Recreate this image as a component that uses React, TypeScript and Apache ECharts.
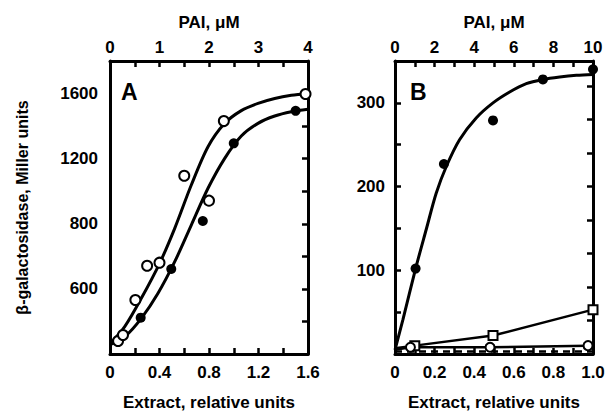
import React, { useEffect, useRef } from "react";
import * as echarts from "echarts";

// ---- Panel A data ----
const extractLabelsA = [0, 0.4, 0.8, 1.2, 1.6];
const paiLabelsA = [0, 1, 2, 3, 4];
const yTickValuesA = [400, 800, 1200, 1600];
const yTickTextA = ["600", "800", "1200", "1600"];
const openPointsA = [[0.065, 80], [0.105, 117], [0.205, 332], [0.3, 542], [0.4, 561], [0.6, 1095], [0.8, 942], [0.92, 1431], [1.58, 1597]];
const filledPointsA = [[0.248, 223], [0.495, 522], [0.75, 817], [1.0, 1294], [1.5, 1494]];
const upperCurveA = [[0.005, 66], [0.119, 168], [0.253, 342], [0.401, 557], [0.523, 772], [0.657, 1038], [0.792, 1273], [0.927, 1417], [1.061, 1495], [1.196, 1540], [1.331, 1570], [1.465, 1589], [1.6, 1599]];
const lowerCurveA = [[0.005, 59], [0.119, 106], [0.253, 219], [0.388, 373], [0.523, 567], [0.657, 792], [0.792, 1018], [0.927, 1202], [1.061, 1339], [1.196, 1417], [1.331, 1462], [1.465, 1488], [1.6, 1503]];

// ---- Panel B data ----
const extractLabelsB = [0, 0.2, 0.4, 0.6, 0.8, 1.0];
const paiLabelsB = [0, 2, 4, 6, 8, 10];
const yLabelsB = [100, 200, 300];
const filledPointsB = [[0.104, 102], [0.247, 227], [0.495, 279], [0.747, 328], [1.0, 340]];
const curveB = [[0, 5], [0.04, 41], [0.104, 102], [0.158, 149], [0.208, 192], [0.259, 224], [0.326, 256], [0.41, 282], [0.495, 300], [0.579, 313], [0.663, 323], [0.747, 328], [0.832, 331], [0.916, 333], [1.0, 334]];
const squaresB = [[0, 7], [0.1, 10], [0.495, 22], [1.0, 53]];
const openCirclesB = [[0, 5], [0.078, 8], [0.48, 8], [0.975, 10]];
const dashedB = [[0, 3], [1.0, 3]];

const FONT = "Liberation Sans";
const near = (arr: number[], v: number) => arr.some((a) => Math.abs(a - v) < 1e-6);

const labelStyle = { color: "#000", fontFamily: FONT, fontWeight: "bold" as const, fontSize: 17 };
const lineStyle = { color: "#000", width: 3 };
const tickStyle = { show: true, inside: true, length: 6, lineStyle: { color: "#000", width: 2.5 } };
const nameStyle = { color: "#000", fontFamily: FONT, fontWeight: "bold" as const, fontSize: 17 };

export default function App() {
  const ref = useRef<HTMLDivElement>(null);
  useEffect(() => {
    if (!ref.current) return;
    const chart = echarts.init(ref.current, undefined, { renderer: "svg" });
    const xBase = (grid: number, pos: "top" | "bottom", max: number, interval: number, labels: number[], decimals: number, name: string, nameGap: number) => ({
      type: "value",
      gridIndex: grid,
      position: pos,
      min: 0,
      max,
      interval,
      name,
      nameLocation: "middle",
      nameGap,
      nameTextStyle: nameStyle,
      axisLine: { show: true, onZero: false, lineStyle },
      axisTick: tickStyle,
      splitLine: { show: false },
      axisLabel: {
        ...labelStyle,
        margin: pos === "top" ? 5 : 10,
        showMaxLabel: true,
        showMinLabel: true,
        formatter: (v: number) => (near(labels, v) ? (v === 0 ? "0" : v.toFixed(decimals)) : ""),
      },
    });
    const openStyle = { color: "#fff", borderColor: "#000", borderWidth: 2, opacity: 1 };
    const filledStyle = { color: "#000", opacity: 1 };
    const curveLine = { color: "#000", width: 3 };
    const option: any = {
      animation: false,
      backgroundColor: "#fff",
      grid: [
        { left: 110, top: 61, width: 198, height: 293 },
        { left: 395, top: 61, width: 198, height: 293 },
      ],
      graphic: [
        { type: "text", left: 121, top: 80, style: { text: "A", fill: "#000", font: `bold 23px "${FONT}"` } },
        { type: "text", left: 410, top: 80, style: { text: "B", fill: "#000", font: `bold 23px "${FONT}"` } },
      ],
      xAxis: [
        xBase(0, "bottom", 1.6, 0.2, extractLabelsA, 1, "Extract, relative units", 40),
        xBase(0, "top", 4, 0.5, paiLabelsA, 0, "PAI, μM", 30),
        xBase(1, "bottom", 1.0, 0.1, extractLabelsB, 1, "Extract, relative units", 40),
        xBase(1, "top", 10, 1, paiLabelsB, 0, "PAI, μM", 30),
      ],
      yAxis: [
        {
          type: "value", gridIndex: 0, position: "left", min: 0, max: 1800, interval: 400,
          name: "β-galactosidase, Miller units", nameLocation: "middle", nameGap: 80,
          nameTextStyle: { ...nameStyle, fontSize: 16 },
          axisLine: { show: true, onZero: false, lineStyle }, axisTick: { show: false }, splitLine: { show: false },
          axisLabel: {
            ...labelStyle, margin: 12, showMaxLabel: false,
            formatter: (v: number) => {
              const i = yTickValuesA.indexOf(v);
              return i >= 0 ? yTickTextA[i] : "";
            },
          },
        },
        {
          type: "value", gridIndex: 0, position: "right", min: 0, max: 1800, interval: 200,
          axisLine: { show: true, onZero: false, lineStyle }, axisTick: tickStyle, splitLine: { show: false },
          axisLabel: { show: false },
        },
        {
          type: "value", gridIndex: 1, position: "left", min: 0, max: 350, interval: 50,
          axisLine: { show: true, onZero: false, lineStyle }, axisTick: tickStyle, splitLine: { show: false },
          axisLabel: {
            ...labelStyle, margin: 10, showMaxLabel: false,
            formatter: (v: number) => (yLabelsB.includes(v) ? String(v) : ""),
          },
        },
        {
          type: "value", gridIndex: 1, position: "right", min: 0, max: 350, interval: 40,
          axisLine: { show: true, onZero: false, lineStyle }, axisTick: tickStyle, splitLine: { show: false },
          axisLabel: { show: false },
        },
      ],
      series: [
        { type: "line", xAxisIndex: 0, yAxisIndex: 0, data: upperCurveA, smooth: 0.3, symbol: "none", lineStyle: curveLine, z: 2 },
        { type: "line", xAxisIndex: 0, yAxisIndex: 0, data: lowerCurveA, smooth: 0.3, symbol: "none", lineStyle: curveLine, z: 2 },
        { type: "scatter", xAxisIndex: 0, yAxisIndex: 0, data: filledPointsA, symbol: "circle", symbolSize: 10, itemStyle: filledStyle, z: 3 },
        { type: "scatter", xAxisIndex: 0, yAxisIndex: 0, data: openPointsA, symbol: "circle", symbolSize: 10, itemStyle: openStyle, z: 4 },
        { type: "line", xAxisIndex: 2, yAxisIndex: 2, data: dashedB, symbol: "none", lineStyle: { color: "#000", width: 2.5, type: [7, 5] }, z: 2 },
        { type: "line", xAxisIndex: 2, yAxisIndex: 2, data: curveB, smooth: 0.3, symbol: "none", lineStyle: curveLine, z: 2 },
        { type: "scatter", xAxisIndex: 2, yAxisIndex: 2, data: filledPointsB, symbol: "circle", symbolSize: 10, itemStyle: filledStyle, z: 3 },
        {
          type: "line", xAxisIndex: 2, yAxisIndex: 2, symbol: "rect", symbolSize: 9, showAllSymbol: true,
          data: squaresB.map((p, i) => (i === 0 ? { value: p, symbol: "none" } : p)),
          itemStyle: openStyle, lineStyle: { color: "#000", width: 2.5 }, z: 4,
        },
        {
          type: "line", xAxisIndex: 2, yAxisIndex: 2, symbol: "circle", symbolSize: 9, showAllSymbol: true,
          data: openCirclesB.map((p, i) => (i === 0 ? { value: p, symbol: "none" } : p)),
          itemStyle: openStyle, lineStyle: { color: "#000", width: 2.5 }, z: 4,
        },
      ],
    };
    chart.setOption(option);
    return () => chart.dispose();
  }, []);
  return <div ref={ref} style={{ position: "fixed", left: 0, top: 0, width: 610, height: 416, background: "#fff" }} />;
}
